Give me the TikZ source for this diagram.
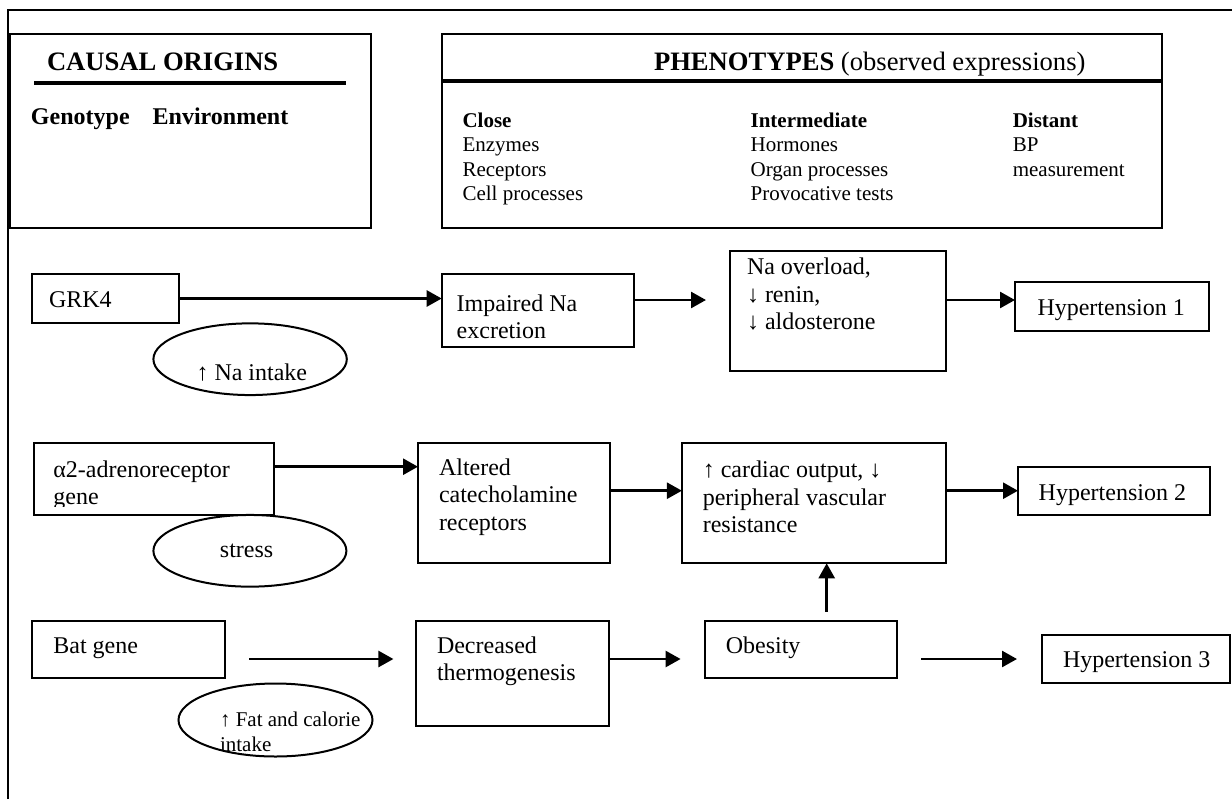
\documentclass[tikz,border=0pt]{standalone}
\usepackage{fontspec}
\setmainfont{Liberation Serif}
\usetikzlibrary{arrows.meta,shapes.geometric}
\newcommand\bodyf{\fontsize{12}{13.8}\selectfont}
\newcommand\titlef{\fontsize{13.3}{15}\selectfont}
\newcommand\smallf{\fontsize{10.5}{12}\selectfont}
\begin{document}
\begin{tikzpicture}[x=0.5pt,y=-0.5pt,
  box/.style={draw, line width=1pt, rectangle, inner sep=0pt, outer sep=0pt},
  oval/.style={draw, line width=1pt, ellipse, inner sep=0pt, outer sep=0pt},
  lbl/.style={anchor=base west, inner sep=0pt, outer sep=0pt, font=\bodyf},
  smalllbl/.style={anchor=base west, inner sep=0pt, outer sep=0pt, font=\smallf},
  titlelbl/.style={anchor=base west, inner sep=0pt, outer sep=0pt, font=\titlef},
  arr/.style={line width=1.3pt, -{Triangle[length=7.5pt,width=8pt]}},
  heavy/.style={line width=1.6pt},
  frame/.style={line width=1.1pt}]
\useasboundingbox (0,0) rectangle (1232,799);

% outer frame
\draw[frame] (8,799) -- (8,10) -- (1232,10);

% header boxes
\node[box, minimum width=180.5pt, minimum height=96.85pt] (causal) at (190.5,131.15) {};
\node[box, minimum width=360.1pt, minimum height=96.85pt] (pheno) at (801.9,131.15) {};
\node[titlelbl] (causalT) at (47,70) {\bfseries CAUSAL ORIGINS};
\draw[heavy] (34,83) -- (346,83);
\node[lbl] (geno) at (31,124) {\bfseries Genotype};
\node[lbl] (env) at (152.7,124) {\bfseries Environment};
\node[titlelbl] (phenoT) at (654,70) {\bfseries PHENOTYPES\mdseries{} (observed expressions)};
\draw[heavy] (pheno.west |- 0,81) -- (pheno.east |- 0,81);

\node[smalllbl] (c1) at (462.5,127) {\bfseries Close};
\node[smalllbl] (c2) at (462.5,151.5) {Enzymes};
\node[smalllbl] (c3) at (462.5,176) {Receptors};
\node[smalllbl] (c4) at (462.5,200.5) {Cell processes};
\node[smalllbl] (i1) at (750.6,127) {\bfseries Intermediate};
\node[smalllbl] (i2) at (750.6,151.5) {Hormones};
\node[smalllbl] (i3) at (750.6,176) {Organ processes};
\node[smalllbl] (i4) at (750.6,200.5) {Provocative tests};
\node[smalllbl] (d1) at (1012.8,127) {\bfseries Distant};
\node[smalllbl] (d2) at (1012.8,151.5) {BP};
\node[smalllbl] (d3) at (1012.8,176) {measurement};

% row 1
\node[box, minimum width=73.15pt, minimum height=24.2pt] (grk4) at (105.55,298.5) {};
\node[lbl] (grk4T) at (49,307) {GRK4};
\node[box, minimum width=95.9pt, minimum height=36.2pt] (impaired) at (537.6,310.5) {};
\node[lbl] (imp1) at (456.7,311) {Impaired Na};
\node[lbl] (imp2) at (456.7,338.5) {excretion};
\node[box, minimum width=108.1pt, minimum height=60pt] (naover) at (837.9,310.7) {};
\node[lbl] (na1) at (747,274.5) {Na overload,};
\node[lbl] (na2) at (747,302) {↓ renin,};
\node[lbl] (na3) at (747,329.5) {↓ aldosterone};
\node[box, minimum width=97pt, minimum height=24.5pt] (hyp1) at (1112,306.2) {};
\node[lbl] (hyp1T) at (1037.5,315) {Hypertension 1};
\node[oval, minimum width=96.7pt, minimum height=35.85pt] (naint) at (250.1,359.2) {};
\node[lbl] (naintT) at (196.5,380) {↑ Na intake};

\coordinate (r1end) at (706,300);
\draw[arr] (grk4.east) -- (grk4.east -| impaired.west);
\draw[arr] (impaired.east |- r1end) -- (r1end);
\draw[arr] (naover.east |- r1end) -- (hyp1.west |- r1end);

% row 2
\node[box, minimum width=120pt, minimum height=36.15pt] (alpha) at (153.6,478.85) {};
\begin{scope}
  \clip (33.6,442.7) rectangle (273.6,506);
  \node[lbl] (al1) at (53.4,477) {α2-adrenoreceptor};
  \node[lbl] (al2) at (53.4,504) {gene};
\end{scope}
\node[box, minimum width=96pt, minimum height=60.3pt] (altered) at (514,503) {};
\node[lbl] (alt1) at (439,475) {Altered};
\node[lbl] (alt2) at (439,502.5) {catecholamine};
\node[lbl] (alt3) at (439,530) {receptors};
\node[box, minimum width=132.05pt, minimum height=60.3pt] (cardiac) at (813.95,503) {};
\node[lbl] (car1) at (702.8,477) {↑ cardiac output, ↓};
\node[lbl] (car2) at (702.8,505) {peripheral vascular};
\node[lbl] (car3) at (702.8,532.5) {resistance};
\node[box, minimum width=96pt, minimum height=24.15pt] (hyp2) at (1114,490.85) {};
\node[lbl] (hyp2T) at (1038.7,500) {Hypertension 2};
\node[oval, minimum width=96.5pt, minimum height=35.85pt] (stress) at (249.9,550.8) {};
\node[anchor=base, inner sep=0pt, font=\bodyf] (stressT) at (246.6,557) {stress};

\coordinate (r2a) at (0,466.7);
\coordinate (r2b) at (0,490.7);
\draw[arr] (alpha.east |- r2a) -- (altered.west |- r2a);
\draw[arr] (altered.east |- r2b) -- (cardiac.west |- r2b);
\draw[arr] (cardiac.east |- r2b) -- (hyp2.west |- r2b);

% row 3
\node[box, minimum width=96.5pt, minimum height=28.8pt] (bat) at (128.9,649.5) {};
\node[lbl] (batT) at (53.4,653.3) {Bat gene};
\node[box, minimum width=96.3pt, minimum height=52.65pt] (decr) at (512.7,673.35) {};
\node[lbl] (dec1) at (437,653.3) {Decreased};
\node[lbl] (dec2) at (437,680.5) {thermogenesis};
\node[box, minimum width=96.1pt, minimum height=28.8pt] (obes) at (800.9,649.5) {};
\node[lbl] (obesT) at (725.8,653.3) {Obesity};
\node[box, minimum width=94pt, minimum height=23.75pt] (hyp3) at (1136,658.75) {};
\node[lbl] (hyp3T) at (1063,667) {Hypertension 3};
\node[oval, minimum width=97pt, minimum height=36.5pt] (fat) at (275.5,720) {};
\node[smalllbl] (fat1) at (220,726.5) {↑ Fat and calorie};
\node[smalllbl] (fat2) at (220,751.5) {intake};

\coordinate (b1) at (249,659);
\coordinate (b2) at (393.4,659);
\coordinate (b3) at (680.6,659);
\coordinate (b4) at (921,659);
\coordinate (b5) at (1017,659);
\coordinate (up1) at (826.7,611.7);
\draw[arr] (b1) -- (b2);
\draw[arr] (decr.east |- b3) -- (b3);
\draw[arr] (b4) -- (b5);
\draw[arr] (up1) -- (up1 |- cardiac.south);
\end{tikzpicture}
\end{document}
